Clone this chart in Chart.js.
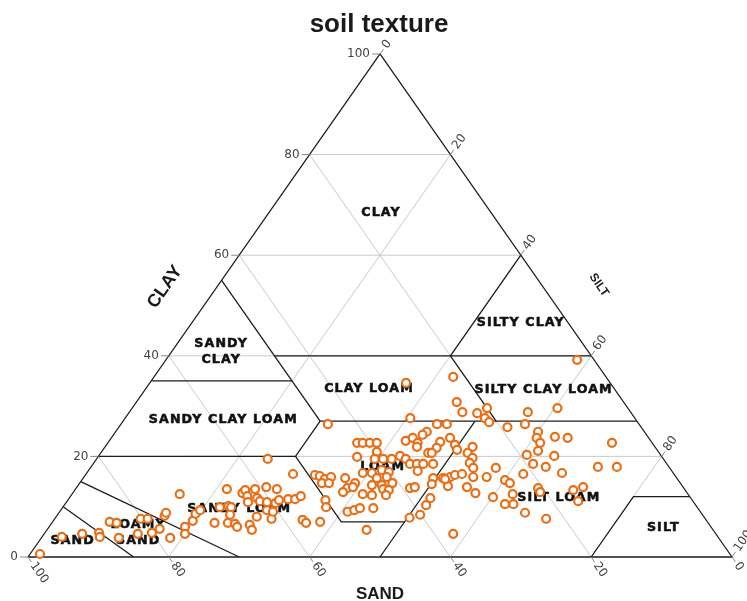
<!DOCTYPE html>
<html>
<head>
<meta charset="utf-8">
<title>soil texture</title>
<script src="https://cdn.jsdelivr.net/npm/chart.js@4.4.1/dist/chart.umd.min.js"></script>
<style>
  html, body { margin: 0; padding: 0; background: #ffffff; }
  #wrap { width: 747px; height: 601px; }
</style>
</head>
<body>
<div id="wrap"><canvas id="chart" width="747" height="601"></canvas></div>
<script>
// Sample composition, percent sand and percent clay; silt is the remainder.
const sand = [
  98.0, 93.2, 90.0, 87.5, 87.8, 84.9, 84.0, 85.2, 82.1, 80.2,
  79.2, 80.0, 78.5, 76.5, 76.0, 77.9, 72.2, 74.7, 75.4, 73.0,
  71.9, 70.9, 70.1, 67.8, 65.0, 66.5, 66.2, 68.2, 67.1, 67.3,
  67.3, 63.2, 62.5, 62.8, 63.3, 65.3, 65.5, 61.0, 61.6, 63.5,
  61.5, 59.2, 60.6, 61.4, 56.2, 61.6, 60.7, 59.5, 57.9, 58.7,
  57.3, 54.1, 56.3, 55.2, 57.3, 57.1, 51.1, 50.5, 50.1, 49.0,
  50.9, 49.9, 55.0, 52.1, 52.7, 44.2, 47.1, 47.8, 48.8, 46.2,
  41.9, 41.1, 40.1, 39.1, 43.3, 40.0, 44.1, 42.8, 41.1, 40.3,
  41.1, 42.6, 40.9, 44.0, 42.6, 42.8, 42.1, 46.2, 45.0, 43.0,
  50.1, 49.0, 48.0, 46.1, 49.2, 46.9, 29.0, 31.9, 28.7, 27.3,
  21.7, 23.7, 23.9, 41.0, 39.8, 38.6, 37.1, 36.6, 34.8, 33.5,
  33.3, 33.8, 30.9, 31.8, 30.0, 31.1, 28.2, 28.2, 28.4, 32.8,
  32.3, 36.5, 35.5, 34.6, 33.2, 36.1, 38.9, 38.1, 34.6, 33.2,
  32.1, 31.2, 33.3, 35.4, 37.0, 38.3, 40.1, 41.9, 37.3, 33.0,
  30.1, 25.9, 27.2, 27.0, 27.9, 27.9, 24.7, 26.9, 28.8, 30.7,
  30.1, 21.9, 20.0, 21.3, 21.1, 19.0, 16.2, 14.6, 10.0, 2.4,
  15.1, 15.9, 15.9, 17.0, 13.2, 11.5, 5.7, 19.0, 19.0, 17.5,
  15.2, 10.1, 7.4, 15.8, 24.6, 24.2, 21.4, 24.9, 28.0, 27.0,
  25.8, 20.7, 20.8, 15.9, 14.2, 16.3, 25.0, 22.6
];
const clay = [
  0.6, 4.0, 4.6, 4.8, 4.0, 7.0, 6.8, 3.8, 4.6, 7.6,
  7.6, 4.8, 5.6, 8.2, 8.8, 3.8, 12.5, 6.0, 4.6, 7.2,
  8.6, 9.3, 6.8, 9.9, 13.5, 10.1, 9.9, 6.8, 8.4, 6.6,
  6.0, 12.7, 13.3, 12.1, 10.9, 6.4, 5.4, 13.5, 11.7, 8.0,
  11.1, 13.9, 10.9, 9.3, 19.5, 7.6, 9.0, 10.7, 13.5, 11.3,
  11.5, 16.5, 11.5, 12.1, 7.4, 6.8, 16.3, 16.1, 15.5, 15.9,
  14.7, 14.7, 7.0, 11.3, 9.9, 26.4, 15.7, 13.7, 12.9, 14.7,
  22.7, 22.7, 22.7, 22.7, 19.9, 20.9, 16.7, 16.7, 17.3, 16.9,
  15.9, 15.7, 14.7, 14.3, 14.3, 13.5, 13.3, 12.5, 12.3, 12.3,
  9.0, 9.3, 9.7, 9.7, 5.4, 13.9, 34.6, 27.6, 26.4, 26.4,
  35.8, 30.8, 28.8, 19.5, 19.5, 19.5, 20.1, 19.5, 23.1, 23.7,
  22.7, 21.9, 24.9, 24.3, 22.9, 21.7, 23.7, 22.3, 21.3, 20.7,
  20.7, 18.5, 18.5, 18.5, 18.5, 17.1, 13.7, 13.9, 15.7, 15.7,
  15.9, 16.3, 14.1, 14.5, 11.7, 10.3, 8.4, 7.8, 4.6, 15.5,
  16.5, 21.9, 20.7, 19.7, 18.7, 17.7, 17.7, 15.9, 15.9, 13.9,
  12.7, 28.6, 29.6, 27.6, 26.8, 25.8, 26.4, 28.8, 29.6, 39.2,
  24.9, 23.7, 22.7, 21.1, 23.9, 23.7, 22.7, 20.3, 18.5, 17.9,
  20.1, 17.9, 17.9, 16.7, 15.3, 14.7, 16.5, 12.5, 11.9, 10.5,
  10.5, 13.7, 12.9, 13.3, 13.9, 11.1, 8.8, 7.6
];
const silt = sand.map((s, i) => +(100 - s - clay[i]).toFixed(1));

// Axis tick labels (percent) and the interior grid steps
const tickValues = [0, 20, 40, 60, 80, 100];
const gridValues = [20, 40, 60, 80];

// Texture class boundaries as [sand, clay] vertices (USDA classes)
const classLines = [
  [[100, 0], [0, 0], [0, 100], [100, 0]],
  [[45, 40], [0, 40]],
  [[20, 40], [0, 60]],
  [[45, 27], [45, 55]],
  [[65, 35], [45, 35]],
  [[45, 27], [0, 27]],
  [[20, 40], [20, 27]],
  [[80, 20], [52, 20], [45, 27]],
  [[52, 20], [52, 7], [43, 7]],
  [[23, 27], [50, 0]],
  [[70, 0], [85, 15]],
  [[85, 0], [90, 10]],
  [[20, 0], [8, 12], [0, 12]]
];

// Class names and where each is written, as [sand, clay]
const classNames = ['CLAY', 'SANDY\nCLAY', 'SILTY CLAY', 'CLAY LOAM', 'SILTY CLAY LOAM',
  'SANDY CLAY LOAM', 'LOAM', 'SILT LOAM', 'SANDY LOAM', 'LOAMY\nSAND', 'SAND', 'SILT'];
const classSpots = [[15.8, 68.4], [52.3, 40.8], [6.9, 46.5], [35.0, 33.4], [10.3, 33.2],
  [58.8, 27.2], [40.8, 17.9], [18.9, 11.7], [65.4, 9.5], [82.1, 4.8], [92.2, 3.2], [7.0, 5.8]];

// Ternary position: x runs along the base (silt + clay/2), y is clay
const toXY = (s, c) => ({ x: 100 - s - c / 2, y: c });

const datasets = [];
datasets.push({
  label: 'samples',
  data: sand.map((s, i) => ({ x: silt[i] + clay[i] / 2, y: clay[i] })),
  showLine: false,
  pointRadius: 4,
  pointBorderWidth: 2.2,
  pointBorderColor: '#e86f17',
  pointBackgroundColor: '#ffffff',
  order: 0,
  clip: false
});
classLines.forEach(line => datasets.push({
  data: line.map(p => toXY(p[0], p[1])),
  showLine: true, pointRadius: 0,
  borderColor: '#1c1c1c', borderWidth: 1.3,
  order: 1, clip: false
}));
gridValues.forEach(v => {
  // clay, sand and silt lines at the same step
  [[[100 - v, v], [0, v]], [[v, 0], [v, 100 - v]], [[100 - v, 0], [0, 100 - v]]].forEach(seg =>
    datasets.push({
      data: seg.map(p => toXY(p[0], p[1])),
      showLine: true, pointRadius: 0,
      borderColor: '#cacaca', borderWidth: 1,
      order: 2, clip: false
    }));
});

function pix(chart, s, c) {
  const p = toXY(s, c);
  return [chart.scales.x.getPixelForValue(p.x), chart.scales.y.getPixelForValue(p.y)];
}

const texturePlugin = {
  id: 'texture',
  beforeDatasetDraw(chart, args) {
    if (args.index !== 0) return;
    const ctx = chart.ctx;
    ctx.save();
    ctx.fillStyle = '#111111';
    ctx.strokeStyle = '#111111';
    ctx.lineWidth = 0.5;
    ctx.font = 'bold 11.5px "DejaVu Sans"';
    ctx.letterSpacing = '1px';
    ctx.textAlign = 'center';
    ctx.textBaseline = 'middle';
    classNames.forEach((name, i) => {
      const [x, y] = pix(chart, classSpots[i][0], classSpots[i][1]);
      const rows = name.split('\n');
      rows.forEach((row, r) => {
        ctx.save();
        ctx.translate(x + 1, y + (r - (rows.length - 1) / 2) * 16);
        ctx.scale(1.1, 1);
        ctx.fillText(row, 0, 0);
        ctx.strokeText(row, 0, 0);
        ctx.restore();
      });
    });
    ctx.restore();
  },
  afterDatasetsDraw(chart) {
    const ctx = chart.ctx;
    ctx.save();
    ctx.strokeStyle = '#888888';
    ctx.lineWidth = 1;
    ctx.fillStyle = '#444444';
    ctx.font = '12px "DejaVu Sans"';
    const tickLen = 6, gap = 2;

    tickValues.forEach(v => {
      // clay: left edge, ticks pointing left
      let [x, y] = pix(chart, 100 - v, v);
      ctx.beginPath(); ctx.moveTo(x, y); ctx.lineTo(x - tickLen - 2, y); ctx.stroke();
      ctx.textAlign = 'right'; ctx.textBaseline = 'middle';
      ctx.fillText(String(v), x - tickLen - 2 - gap, y);

      // silt: right edge, along the silt line beyond the edge
      [x, y] = pix(chart, 0, 100 - v);
      let [x2, y2] = pix(chart, -1, 100 - v + 1);
      drawAngled(ctx, x, y, x2 - x, y2 - y, String(v), tickLen, gap);

      // sand: base, along the sand line below the base
      [x, y] = pix(chart, v, 0);
      [x2, y2] = pix(chart, v, -1);
      drawAngled(ctx, x, y, x2 - x, y2 - y, String(v), tickLen, gap);
    });

    ctx.fillStyle = '#1a1a1a';
    ctx.textAlign = 'center';
    ctx.textBaseline = 'middle';
    ctx.font = 'bold 18px "Liberation Sans"';
    ctx.save(); ctx.translate(165, 287); ctx.rotate(-55 * Math.PI / 180);
    ctx.fillText('CLAY', 0, 0); ctx.restore();
    ctx.font = 'bold 12px "Liberation Sans"';
    ctx.save(); ctx.translate(599, 285); ctx.rotate(55 * Math.PI / 180);
    ctx.fillText('SILT', 0, 0); ctx.restore();
    ctx.font = 'bold 17px "Liberation Sans"';
    ctx.fillText('SAND', 380, 594);

    ctx.font = 'bold 26px "Liberation Sans"';
    ctx.textBaseline = 'alphabetic';
    ctx.fillText('soil texture', 379, 32);
    ctx.restore();
  }
};

function drawAngled(ctx, x, y, dx, dy, text, tickLen, gap) {
  const len = Math.hypot(dx, dy), ux = dx / len, uy = dy / len;
  ctx.beginPath(); ctx.moveTo(x, y); ctx.lineTo(x + ux * tickLen, y + uy * tickLen); ctx.stroke();
  ctx.save();
  ctx.translate(x + ux * (tickLen + gap), y + uy * (tickLen + gap));
  ctx.rotate(Math.atan2(uy, ux));
  ctx.textAlign = 'left'; ctx.textBaseline = 'middle';
  ctx.fillText(text, 0, 0);
  ctx.restore();
}

new Chart(document.getElementById('chart'), {
  type: 'scatter',
  data: { datasets },
  options: {
    responsive: false,
    animation: false,
    events: [],
    layout: { padding: { left: 28, right: 15, top: 54, bottom: 44 } },
    scales: {
      x: { type: 'linear', min: 0, max: 100, display: false },
      y: { type: 'linear', min: 0, max: 100, display: false }
    },
    plugins: { legend: { display: false }, tooltip: { enabled: false }, title: { display: false } }
  },
  plugins: [texturePlugin]
});
</script>
</body>
</html>
